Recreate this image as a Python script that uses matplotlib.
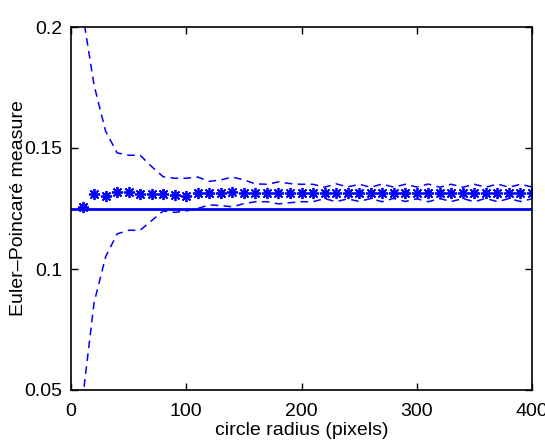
import numpy as np
import matplotlib
matplotlib.use("Agg")
import matplotlib.pyplot as plt

plt.rcParams['font.family'] = ['Liberation Sans', 'DejaVu Sans']

# raggi dei cerchi (pixel)
radius = [10, 20, 30, 40, 50, 60, 70, 80, 90, 100,
          110, 120, 130, 140, 150, 160, 170, 180, 190, 200,
          210, 220, 230, 240, 250, 260, 270, 280, 290, 300,
          310, 320, 330, 340, 350, 360, 370, 380, 390, 400]

# media della misura di Eulero-Poincaré
mean_val = [0.1255, 0.1310, 0.1302, 0.1317, 0.1317, 0.1310, 0.1310, 0.1310, 0.1306, 0.1303,
            0.1316, 0.1312, 0.1312, 0.1320, 0.1312, 0.1314, 0.1314, 0.1314, 0.1314, 0.1312,
            0.1312, 0.1315, 0.1314, 0.1315, 0.1314, 0.1315, 0.1315, 0.1314, 0.1315, 0.1315,
            0.1314, 0.1315, 0.1315, 0.1314, 0.1315, 0.1315, 0.1314, 0.1315, 0.1315, 0.1315]

# limite superiore (media + dev. std)
upper = [0.2060, 0.1760, 0.1570, 0.1480, 0.1470, 0.1470, 0.1423, 0.1381, 0.1375, 0.1375,
         0.1380, 0.1362, 0.1368, 0.1380, 0.1368, 0.1352, 0.1350, 0.1360, 0.1353, 0.1350,
         0.1350, 0.1338, 0.1352, 0.1339, 0.1350, 0.1338, 0.1351, 0.1338, 0.1350, 0.1339,
         0.1351, 0.1338, 0.1350, 0.1338, 0.1350, 0.1338, 0.1351, 0.1338, 0.1350, 0.1339]

# limite inferiore (media - dev. std)
lower = [0.0460, 0.0860, 0.1050, 0.1145, 0.1160, 0.1160, 0.1200, 0.1240, 0.1234, 0.1240,
         0.1250, 0.1265, 0.1262, 0.1257, 0.1270, 0.1278, 0.1278, 0.1269, 0.1274, 0.1278,
         0.1278, 0.1291, 0.1278, 0.1290, 0.1279, 0.1291, 0.1278, 0.1292, 0.1279, 0.1290,
         0.1278, 0.1291, 0.1279, 0.1291, 0.1278, 0.1292, 0.1278, 0.1291, 0.1279, 0.1290]

# valore teorico
theory_x = [0, 400]
theory_y = [0.125, 0.125]

x_ticks = [0, 100, 200, 300, 400]
x_ticklabels = ['0', '100', '200', '300', '400']
y_ticks = [0.05, 0.1, 0.15, 0.2]
y_ticklabels = ['0.05', '0.1', '0.15', '0.2']

fig = plt.figure(figsize=(5.45, 4.42), dpi=100)
ax = fig.add_axes([71 / 545, 52 / 442, 461 / 545, 363 / 442])

ax.plot(theory_x, theory_y, color='blue', lw=2.0)
ax.plot(radius, upper, color='blue', lw=1.1, linestyle=(0, (5, 3.5)))
ax.plot(radius, lower, color='blue', lw=1.1, linestyle=(0, (5, 3.5)))
# asterisco stile MATLAB (+ e x sovrapposti)
ax.plot(radius, mean_val, linestyle='none', marker=(8, 2, 0), color='blue',
        markersize=8, markeredgewidth=1.3)

ax.set_xlim(0, 400)
ax.set_ylim(0.05, 0.2)
ax.set_xticks(x_ticks)
ax.set_xticklabels(x_ticklabels)
ax.set_yticks(y_ticks)
ax.set_yticklabels(y_ticklabels)

ax.tick_params(direction='in', length=5, width=1.0, labelsize=14,
               top=True, right=True, pad=6)
ax.tick_params(axis='x', pad=9)
for s in ax.spines.values():
    s.set_linewidth(1.2)

ax.set_xlabel('circle radius (pixels)', fontsize=14, labelpad=2)
ax.set_ylabel('Euler–Poincaré measure', fontsize=14, labelpad=-2)

fig.savefig('out.png', dpi=100)
